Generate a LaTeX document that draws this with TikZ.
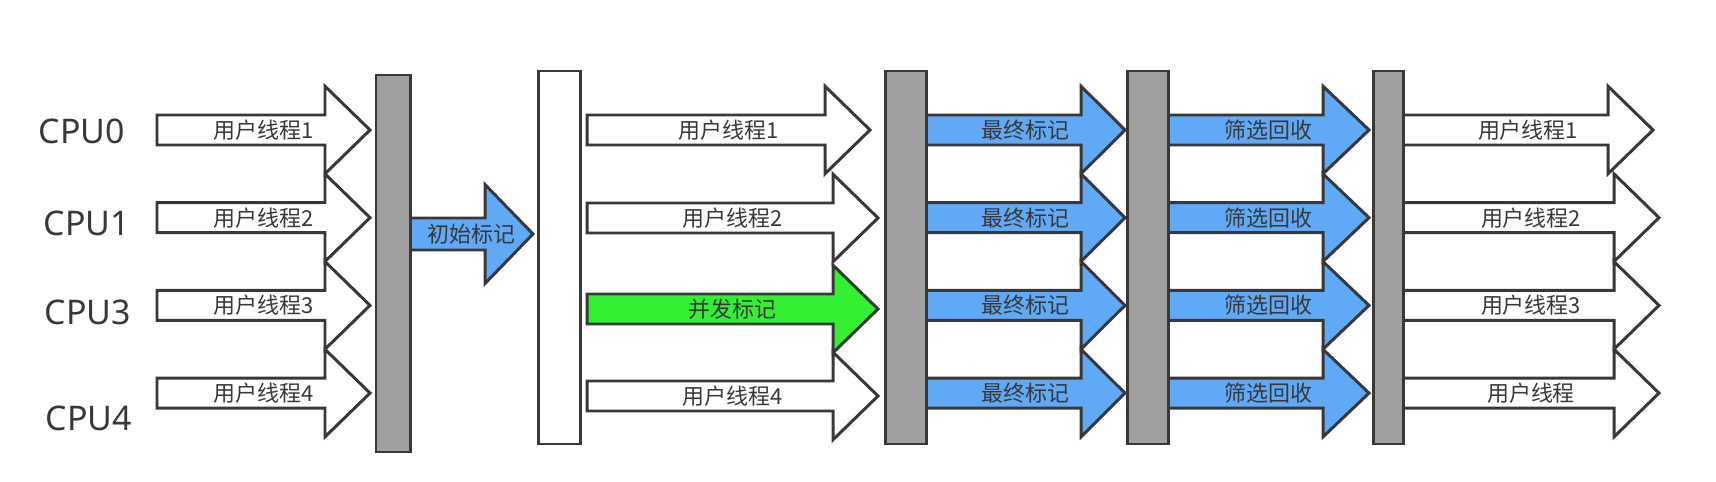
\documentclass[tikz,border=0pt]{standalone}
\usepackage{fontspec}
\setmainfont{Noto Sans CJK SC}
\newfontfamily\cpufont{Noto Sans}

\definecolor{edge}{RGB}{56,56,56}
\definecolor{barfill}{RGB}{160,160,160}
\definecolor{markblue}{RGB}{96,169,246}
\definecolor{markgreen}{RGB}{51,240,51}

% half widths of shaft and head of a block arrow
\newcommand{\shafthalf}{15}
\newcommand{\headhalf}{43.8}
% block arrow: fill, tail x, head base x, tip x, centre y, name, text
\newcommand{\blockarrow}[7]{%
  \draw[outline, fill=#1] (#2,#5-\shafthalf) -- (#3,#5-\shafthalf) -- (#3,#5-\headhalf)
    -- (#4,#5) -- (#3,#5+\headhalf) -- (#3,#5+\shafthalf) -- (#2,#5+\shafthalf) -- cycle;
  \node[lbl] (#6) at ({(#2+#4)/2},#5) {#7};}

\begin{document}
\begin{tikzpicture}[x=0.02cm, y=-0.02cm,
    outline/.style={draw=edge, line width=1.7pt},
    lbl/.style={text=edge, font=\fontsize{12.5}{14}\selectfont, inner sep=0pt},
    cpu/.style={text=edge, font=\cpufont\fontsize{19.3}{22}\selectfont, inner sep=0pt}]
\useasboundingbox (0,0) rectangle (1716,482);

% CPU labels
\node[cpu] (cpu0) at (82,131) {CPU0};
\node[cpu] (cpu1) at (87,223) {CPU1};
\node[cpu] (cpu3) at (88,312) {CPU3};
\node[cpu] (cpu4) at (89,418) {CPU4};

% user threads until the first pause
\foreach \y/\t [count=\i] in {130/用户线程1,217.7/用户线程2,305.4/用户线程3,393.1/用户线程4}
  {\blockarrow{white}{157}{325}{370}{\y}{runa\i}{\t}}

% initial mark
{\renewcommand{\shafthalf}{16}\renewcommand{\headhalf}{49.5}%
 \blockarrow{markblue}{410}{485}{533}{234}{initmark}{初始标记}}

% concurrent phase
\foreach \y/\b/\p/\c/\t [count=\i] in {130/825/870/white/用户线程1,218/833/878/white/用户线程2,
    309/833/878/markgreen/并发标记,396/833/878/white/用户线程4}
  {\blockarrow{\c}{587}{\b}{\p}{\y}{runb\i}{\t}}

% final mark and cleanup
\foreach \y [count=\i] in {130,217.7,305.4,393.1}
  {\blockarrow{markblue}{926}{1081}{1125}{\y}{remark\i}{最终标记}
   \blockarrow{markblue}{1168}{1323}{1369}{\y}{cleanup\i}{筛选回收}}

% user threads again
\foreach \y/\b/\p/\t [count=\i] in {130/1608/1653/用户线程1,217.7/1614/1659/用户线程2,
    305.4/1614/1659/用户线程3,393.1/1614/1659/用户线程}
  {\blockarrow{white}{1403}{\b}{\p}{\y}{runc\i}{\t}}

% pauses
\draw[outline, fill=barfill] (376,75) rectangle (410,452);
\draw[outline, fill=white] (538,71) rectangle (580,444);
\draw[outline, fill=barfill] (885,71) rectangle (926,444);
\draw[outline, fill=barfill] (1127,71) rectangle (1168,444);
\draw[outline, fill=barfill] (1373,71) rectangle (1403,444);
\end{tikzpicture}
\end{document}
